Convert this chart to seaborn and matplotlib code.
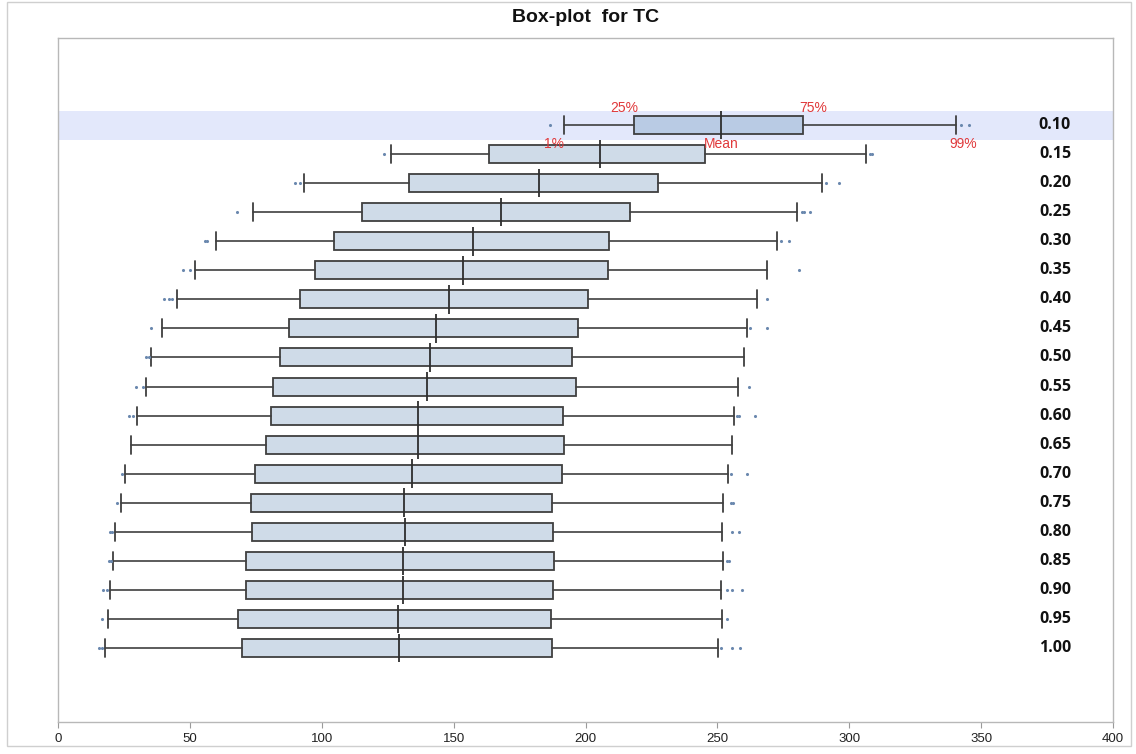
import numpy as np
import pandas as pd
import matplotlib
matplotlib.use("Agg")
import matplotlib.pyplot as plt
import seaborn as sns
from matplotlib.transforms import blended_transform_factory
from matplotlib.patches import Rectangle

# ---------------- data ----------------
labels = ["0.10", "0.15", "0.20", "0.25", "0.30", "0.35", "0.40", "0.45", "0.50", "0.55",
          "0.60", "0.65", "0.70", "0.75", "0.80", "0.85", "0.90", "0.95", "1.00"]
p1 = [191.8, 126.1, 93.1, 74.1, 60.0, 52.0, 45.2, 39.5, 35.3, 33.4,
      30.0, 27.7, 25.5, 23.9, 21.7, 20.9, 19.8, 19.0, 17.9]
q1 = [218.4, 163.3, 133.0, 115.1, 104.5, 97.6, 91.9, 87.4, 84.0, 81.7,
      80.9, 79.0, 74.8, 73.3, 73.7, 71.4, 71.4, 68.4, 69.9]
mean = [251.5, 205.5, 182.3, 167.9, 157.3, 153.5, 148.1, 143.2, 140.9, 139.8,
        136.4, 136.4, 134.1, 131.1, 131.4, 130.7, 130.7, 128.8, 129.2]
q3 = [282.6, 245.4, 227.5, 216.9, 208.9, 208.5, 201.0, 197.2, 194.9, 196.4,
      191.5, 191.8, 191.1, 187.3, 187.7, 188.0, 187.7, 186.9, 187.3]
p99 = [340.4, 306.2, 289.5, 280.3, 272.7, 268.9, 265.1, 261.3, 260.2, 257.9,
       256.4, 255.7, 254.1, 252.2, 251.9, 252.2, 251.5, 251.9, 250.3]
low_out = [[186.5], [123.5], [90.0, 91.9], [68.0], [55.8, 56.6], [47.5, 50.1],
           [40.3, 42.2, 43.3], [35.3], [33.4, 34.6], [29.6, 32.3], [27.0, 28.5], [],
           [24.3], [22.4], [19.8, 20.5], [19.4, 20.1], [17.1, 18.6], [16.7], [15.6, 16.7]]
high_out = [[342.3, 345.3], [307.7, 308.8], [291.3, 296.3], [281.9, 283.0, 285.3],
            [274.3, 277.3], [281.1], [268.9], [262.5, 268.9], [], [262.1],
            [257.5, 258.3, 264.4], [], [255.3, 261.4], [255.3, 256.0], [255.6, 258.3],
            [253.7, 254.5], [253.7, 255.6, 259.4], [253.7], [251.5, 255.6, 258.7]]
x_ticks = [0, 50, 100, 150, 200, 250, 300, 350, 400]
title = "Box-plot  for TC"
highlight_labels = ["25%", "75%", "1%", "Mean", "99%"]

# ---------------- styling ----------------
sns.set_theme(style="white")
plt.rcParams['font.family'] = ['Liberation Sans', 'DejaVu Sans']

W, H = 1136, 754
fig = plt.figure(figsize=(W / 100, H / 100), dpi=100)
ax = fig.add_axes([58 / W, 1 - 722 / H, (1113 - 58) / W, (722 - 38) / H])

pos = np.arange(len(labels))
edge = "#3F3F3F"

# highlighted first row band
ax.axhspan(-0.5, 0.5, color="#E3E8FB", zorder=0, linewidth=0)

stats = [dict(whislo=p1[i], q1=q1[i], med=mean[i], q3=q3[i], whishi=p99[i], fliers=[])
         for i in range(len(labels))]
bp = ax.bxp(stats, positions=pos, widths=0.62, orientation='horizontal',
            patch_artist=True, showfliers=False, capwidths=0.62,
            boxprops=dict(edgecolor=edge, linewidth=1.3),
            whiskerprops=dict(color=edge, linewidth=1.2),
            capprops=dict(color=edge, linewidth=1.3),
            medianprops=dict(linewidth=0))
for i, b in enumerate(bp['boxes']):
    b.set_facecolor("#B9CBE4" if i == 0 else "#CFDBE8")
    b.set_zorder(2)

# mean lines spanning the row height
ax.vlines(mean, pos - 0.49, pos + 0.49, color="#2E2E2E", linewidth=1.3, zorder=4)

# outliers
rows = []
for i in range(len(labels)):
    for v in low_out[i] + high_out[i]:
        rows.append({"value": v, "row": i})
df_out = pd.DataFrame(rows)
sns.scatterplot(data=df_out, x="value", y="row", ax=ax, s=5, color="#6A88AE",
                linewidth=0, legend=False, zorder=5)

ax.set_xlim(0, 400)
ax.set_ylim(len(labels) - 1 + 2.55, -3.0)
ax.set_yticks([])
ax.set_xticks(x_ticks)
ax.set_xticklabels([str(t) for t in x_ticks])
ax.set_xlabel("")
ax.set_ylabel("")
ax.tick_params(axis='x', bottom=True, length=4, width=0.8, color="#9A9A9A",
               labelsize=9.5, labelcolor="#222222", pad=4)
for s in ax.spines.values():
    s.set_color("#B8B8B8")
    s.set_linewidth(1.0)

# row labels on the right
trans = blended_transform_factory(ax.transAxes, ax.transData)
for i, lab in enumerate(labels):
    ax.text(0.945, i, lab, transform=trans, ha='center', va='center',
            fontsize=11.5, fontweight='bold', color="#111111",
            family=['Open Sans', 'DejaVu Sans'])

# red annotations on the first row
red = "#E0393B"
afs = 10
ax.text(q1[0] + 1.5, -0.58, highlight_labels[0], ha='right', va='center', color=red, fontsize=afs)
ax.text(q3[0] - 1.5, -0.58, highlight_labels[1], ha='left', va='center', color=red, fontsize=afs)
ax.text(p1[0], 0.66, highlight_labels[2], ha='right', va='center', color=red, fontsize=afs)
ax.text(mean[0], 0.66, highlight_labels[3], ha='center', va='center', color=red, fontsize=afs)
ax.text(p99[0] - 2.3, 0.66, highlight_labels[4], ha='left', va='center', color=red, fontsize=afs)

# title
fig.text(586 / W, 1 - 18 / H, title, ha='center', va='center', fontsize=14,
         fontweight='bold', color="#111111")

# faint screenshot frame
fig.patches.append(Rectangle((7 / W, 1 - 746 / H), (1131 - 7) / W, (746 - 2) / H,
                             transform=fig.transFigure, fill=False,
                             edgecolor="#CFCFCF", linewidth=1.0))

fig.savefig("out.png", dpi=100)
